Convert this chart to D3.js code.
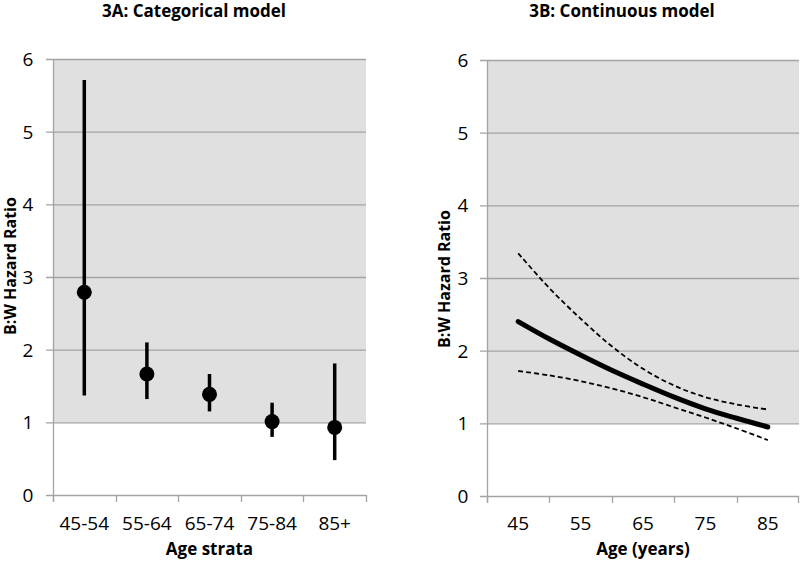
<!DOCTYPE html>
<html>
<head>
<meta charset="utf-8">
<script src="https://cdn.jsdelivr.net/npm/d3@7"></script>
<style>
  html, body { margin: 0; padding: 0; background: #fff; }
  svg { display: block; }
  text { font-family: "Open Sans", "DejaVu Sans", sans-serif; fill: #000; }
</style>
</head>
<body>
<svg id="chart" width="800" height="562"></svg>
<script>
// ---------- Data ----------
const strata = ["45-54", "55-64", "65-74", "75-84", "85+"];
const hrPoint = [2.79, 1.665, 1.385, 1.01, 0.93];
const hrLow   = [1.37, 1.32, 1.15, 0.80, 0.48];
const hrHigh  = [5.71, 2.10, 1.665, 1.27, 1.81];

const ages      = [45, 50, 55, 60, 65, 70, 75, 80, 85];
const hrFit     = [2.40, 2.16, 1.94, 1.73, 1.54, 1.36, 1.20, 1.07, 0.95];
const hrFitHigh = [3.34, 2.86, 2.44, 2.06, 1.75, 1.52, 1.36, 1.26, 1.19];
const hrFitLow  = [1.72, 1.66, 1.58, 1.48, 1.36, 1.22, 1.08, 0.93, 0.77];

const yTicks = [0, 1, 2, 3, 4, 5, 6];
const ageTicks = [45, 55, 65, 75, 85];

const titleA = "3A: Categorical model";
const titleB = "3B: Continuous model";
const yTitle = "B:W Hazard Ratio";
const xTitleA = "Age strata";
const xTitleB = "Age (years)";

// ---------- Layout ----------
const svg = d3.select("#chart");
const gridColor = "#a3a3a3";
const fillColor = "#e0e0e0";

function panel(opts) {
  const g = svg.append("g");
  const y = d3.scaleLinear().domain([0, 6]).range([opts.bottom, opts.top]);
  g.append("rect")
    .attr("x", opts.left).attr("width", opts.right - opts.left)
    .attr("y", y(6)).attr("height", y(1) - y(6))
    .attr("fill", fillColor);
  g.selectAll("line.grid").data(yTicks.filter(d => d > 0)).enter().append("line")
    .attr("x1", opts.left - 7).attr("x2", opts.right)
    .attr("y1", d => y(d) + 0.5).attr("y2", d => y(d) + 0.5)
    .attr("stroke", gridColor).attr("stroke-width", 1.3);
  g.selectAll("text.ytick").data(yTicks).enter().append("text")
    .attr("x", opts.yLabelX).attr("y", d => y(d))
    .attr("dy", "0.36em").attr("text-anchor", "middle")
    .style("font-size", "19px")
    .text(d => d);
  g.append("line")
    .attr("x1", opts.left + 0.5).attr("x2", opts.left + 0.5)
    .attr("y1", y(6)).attr("y2", y(0) + 7)
    .attr("stroke", gridColor).attr("stroke-width", 1.3);
  g.append("line")
    .attr("x1", opts.left - 7).attr("x2", opts.right)
    .attr("y1", y(0) + 0.5).attr("y2", y(0) + 0.5)
    .attr("stroke", gridColor).attr("stroke-width", 1.3);
  g.append("text")
    .attr("x", opts.titleX).attr("y", 17)
    .attr("text-anchor", "middle")
    .style("font-size", "17px").style("font-weight", "bold")
    .text(opts.title);
  g.append("text")
    .attr("transform", `translate(${opts.yTitleX},${opts.yTitleY}) rotate(-90)`)
    .attr("text-anchor", "middle")
    .style("font-size", "16px").style("font-weight", "bold")
    .text(yTitle);
  g.append("text")
    .attr("x", (opts.left + opts.right) / 2).attr("y", 555)
    .attr("text-anchor", "middle")
    .style("font-size", "17px").style("font-weight", "bold")
    .text(opts.xTitle);
  return { g, y };
}

// ---------- Panel A ----------
(function () {
  const left = 53, right = 366;
  const { g, y } = panel({ left, right, top: 59, bottom: 495, yLabelX: 28,
    title: titleA, titleX: 194, yTitleX: 16, yTitleY: 266, xTitle: xTitleA });
  const x = d3.scaleBand().domain(strata).range([left, right]);
  const bounds = strata.map(s => x(s)).concat([right]);
  g.selectAll("line.xt").data(bounds).enter().append("line")
    .attr("x1", d => Math.round(d) + 0.5).attr("x2", d => Math.round(d) + 0.5)
    .attr("y1", y(0)).attr("y2", y(0) + 7)
    .attr("stroke", gridColor).attr("stroke-width", 1.3);
  g.selectAll("text.xl").data(strata).enter().append("text")
    .attr("x", d => x(d) + x.bandwidth() / 2).attr("y", 530)
    .attr("text-anchor", "middle").style("font-size", "19px")
    .text(d => d);
  const pts = strata.map((s, i) => ({ s, p: hrPoint[i], lo: hrLow[i], hi: hrHigh[i] }));
  g.selectAll("line.err").data(pts).enter().append("line")
    .attr("x1", d => x(d.s) + x.bandwidth() / 2).attr("x2", d => x(d.s) + x.bandwidth() / 2)
    .attr("y1", d => y(d.lo)).attr("y2", d => y(d.hi))
    .attr("stroke", "#000").attr("stroke-width", 3.5);
  g.selectAll("circle.pt").data(pts).enter().append("circle")
    .attr("cx", d => x(d.s) + x.bandwidth() / 2).attr("cy", d => y(d.p))
    .attr("r", 7.5).attr("fill", "#000");
})();

// ---------- Panel B ----------
(function () {
  const left = 487, right = 799;
  const { g, y } = panel({ left, right, top: 60, bottom: 496, yLabelX: 463,
    title: titleB, titleX: 622, yTitleX: 450, yTitleY: 279, xTitle: xTitleB });
  const x = d3.scaleLinear().domain([40, 90]).range([left, right]);
  const boundaries = [40, 50, 60, 70, 80, 90];
  g.selectAll("line.xt").data(boundaries).enter().append("line")
    .attr("x1", d => Math.min(Math.round(x(d)) + 0.5, 798.5))
    .attr("x2", d => Math.min(Math.round(x(d)) + 0.5, 798.5))
    .attr("y1", y(0)).attr("y2", y(0) + 7)
    .attr("stroke", gridColor).attr("stroke-width", 1.3);
  g.selectAll("text.xl").data(ageTicks).enter().append("text")
    .attr("x", d => x(d)).attr("y", 530)
    .attr("text-anchor", "middle").style("font-size", "19px")
    .text(d => d);
  const line = d3.line().x(d => x(d[0])).y(d => y(d[1])).curve(d3.curveCatmullRom);
  const mk = arr => ages.map((a, i) => [a, arr[i]]);
  g.append("path").attr("d", line(mk(hrFitHigh)))
    .attr("fill", "none").attr("stroke", "#000").attr("stroke-width", 1.8)
    .attr("stroke-dasharray", "5,3");
  g.append("path").attr("d", line(mk(hrFitLow)))
    .attr("fill", "none").attr("stroke", "#000").attr("stroke-width", 1.8)
    .attr("stroke-dasharray", "5,3");
  g.append("path").attr("d", line(mk(hrFit)))
    .attr("fill", "none").attr("stroke", "#000").attr("stroke-width", 5)
    .attr("stroke-linecap", "round");
})();
</script>
</body>
</html>
